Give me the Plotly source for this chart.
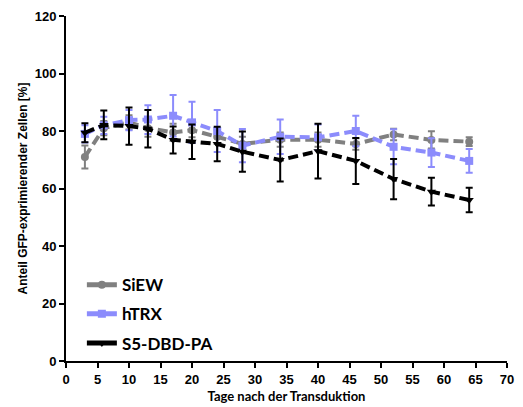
import plotly.graph_objects as go

# Days after transduction
days = [3, 6, 10, 13, 17, 20, 24, 28, 34, 40, 46, 52, 58, 64]

# Share of GFP-expressing cells [%] (mean and SD)
siew_mean = [71.0, 81.0, 83.0, 81.0, 79.5, 80.3, 78.0, 75.5, 77.0, 77.0, 75.5, 78.8, 76.9, 76.3]
siew_sd = [4.0, 2.5, 2.5, 3.0, 3.0, 2.5, 2.5, 2.5, 2.5, 2.5, 2.0, 2.0, 3.0, 1.5]

htrx_mean = [79.0, 82.0, 83.8, 84.0, 85.3, 83.0, 80.0, 74.9, 78.0, 77.8, 80.0, 74.5, 72.5, 69.6]
htrx_sd = [3.0, 3.0, 3.5, 5.0, 7.2, 7.2, 7.3, 5.8, 6.0, 4.5, 5.3, 6.1, 5.0, 4.1]

s5_mean = [79.4, 82.1, 81.7, 80.8, 76.9, 76.3, 75.5, 72.8, 69.9, 73.0, 69.6, 63.3, 58.9, 56.0]
s5_sd = [3.3, 5.0, 6.5, 6.5, 4.7, 6.0, 6.0, 7.0, 7.5, 9.5, 8.0, 7.0, 4.8, 4.3]

series = [
    ("SiEW", siew_mean, siew_sd, "#808080", "circle"),
    ("hTRX", htrx_mean, htrx_sd, "#8c8cfc", "square"),
    ("S5-DBD-PA", s5_mean, s5_sd, "#000000", "triangle-down"),
]

fig = go.Figure()
for name, mean, sd, color, symbol in series:
    # dashed data line with SD error bars
    fig.add_trace(go.Scatter(
        x=days, y=mean, name=name, mode="lines+markers", showlegend=False,
        legendgroup=name,
        line=dict(color=color, width=4, dash="10px,5px"),
        marker=dict(symbol=symbol, size=8, color=color),
        error_y=dict(type="data", array=sd, visible=True,
                     color=color, thickness=2, width=3.5),
    ))
for name, mean, sd, color, symbol in series:
    # solid key entry for the legend
    fig.add_trace(go.Scatter(
        x=[None], y=[None], name=name, mode="lines+markers", legendgroup=name,
        line=dict(color=color, width=5),
        marker=dict(symbol=symbol, size=8, color=color),
    ))

axis_font = dict(family="Liberation Sans, Arial", size=13, color="black", weight="bold")
fig.update_layout(
    width=523, height=407,
    margin=dict(l=66, r=16, t=16, b=46),
    plot_bgcolor="white", paper_bgcolor="white",
    showlegend=True,
    legend=dict(
        x=0.036, y=0.272, xanchor="left", yanchor="top",
        font=dict(family="Lato", size=17, color="black", weight="bold"),
        bgcolor="rgba(0,0,0,0)", tracegroupgap=4,
    ),
    xaxis=dict(
        range=[0, 70], tickmode="array", tickvals=list(range(0, 71, 5)),
        showgrid=False, zeroline=False, showline=True, linecolor="black", linewidth=2,
        ticks="outside", ticklen=5, tickwidth=2, tickcolor="black",
        tickfont=axis_font, automargin=False,
        title=dict(text="Tage nach der Transduktion", standoff=6,
                   font=dict(family="Lato", size=13, color="black", weight="bold")),
    ),
    yaxis=dict(
        range=[0, 120], tickmode="array", tickvals=list(range(0, 121, 20)),
        showgrid=False, zeroline=False, showline=True, linecolor="black", linewidth=2,
        ticks="outside", ticklen=5, tickwidth=2, tickcolor="black",
        tickfont=axis_font, automargin=False,
        title=dict(text="Anteil GFP-exprimierender Zellen [%]", standoff=4,
                   font=dict(family="Liberation Sans, Arial", size=12, color="black", weight="bold")),
    ),
)

fig.write_html("out.html")
